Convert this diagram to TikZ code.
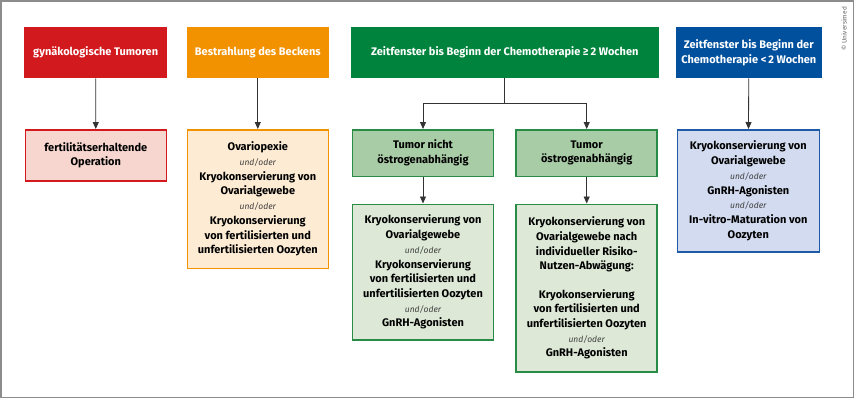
\documentclass[tikz,border=0pt]{standalone}
\usepackage{fontspec}
\setmainfont{Fira Sans}
\usetikzlibrary{arrows.meta}
\definecolor{unired}{RGB}{210,25,30}
\definecolor{uniorange}{RGB}{243,146,0}
\definecolor{unigreen}{RGB}{0,132,61}
\definecolor{uniblue}{RGB}{0,80,158}
\definecolor{redlight}{RGB}{246,214,207}
\definecolor{orangelight}{RGB}{253,235,211}
\definecolor{greenmid}{RGB}{168,204,165}
\definecolor{greenlight}{RGB}{221,233,214}
\definecolor{bluelight}{RGB}{210,219,240}
\definecolor{greenline}{RGB}{40,140,70}
\definecolor{blueline}{RGB}{30,90,166}
\newcommand{\uo}{{\fontsize{8.5}{14.7}\selectfont\mdseries\itshape\color{black!75}und/oder}}

\begin{document}
\begin{tikzpicture}[x=1pt,y=-1pt,
    every node/.style={font=\bfseries\fontsize{11}{14.7}\selectfont,align=center,inner sep=0pt},
    kopf/.style={fill=#1,text=white,minimum height=51pt,anchor=north},
    feld/.style={draw=#1,line width=1.6pt,anchor=north},
    pfeil/.style={draw=black!80,line width=0.8pt,-{Triangle[width=6pt,length=7pt]}}]
    \def\oben{27}
    \def\zweite{129}
    \def\dritte{203.5}
    \def\breite{141}
    \useasboundingbox (0,0) rectangle (854,400);
    \draw[black!45,line width=1.5pt] (0.75,0.75) rectangle (853.25,397.5);
    % obere Reihe
    \node[kopf=unired,minimum width=142.7pt] (gyn) at (95.7,\oben) {gynäkologische Tumoren};
    \node[kopf=uniorange,minimum width=142.3pt] (bestr) at (257.8,\oben) {Bestrahlung des Beckens};
    \node[kopf=unigreen,minimum width=308.3pt] (zeitlang) at (504.8,\oben) {Zeitfenster bis Beginn der Chemotherapie ≥\,2 Wochen};
    \node[kopf=uniblue,minimum width=145.7pt] (zeitkurz) at (748.8,\oben) {Zeitfenster bis Beginn der\\Chemotherapie <\,2 Wochen};
    \node[font=\mdseries\fontsize{6.5}{7}\selectfont,text=black!60,rotate=90] (copy) at (844,29) {© Universimed};
    % zweite Reihe
    \node[feld=unired,fill=redlight,minimum width=\breite pt,minimum height=51pt] (op) at (95.8,\zweite)
        {fertilitätserhaltende\\Operation};
    \node[feld=uniorange,fill=orangelight,minimum width=\breite pt,minimum height=138.5pt] (ovar) at (257.8,\zweite)
        {Ovariopexie\\\uo\\Kryokonservierung von\\Ovarialgewebe\\\uo\\Kryokonservierung\\von fertilisierten und\\unfertilisierten Oozyten};
    \node[feld=greenline,fill=greenmid,minimum width=\breite pt,minimum height=46.5pt] (nicht) at (423,\zweite)
        {Tumor nicht\\östrogenabhängig};
    \node[feld=greenline,fill=greenmid,minimum width=\breite pt,minimum height=46.5pt] (abh) at (586.7,\zweite)
        {Tumor\\östrogenabhängig};
    \node[feld=blueline,fill=bluelight,minimum width=142pt,minimum height=122pt] (kurz) at (748.3,\zweite)
        {Kryokonservierung von\\Ovarialgewebe\\\uo\\GnRH-Agonisten\\\uo\\In-vitro-Maturation von\\Oozyten};
    % dritte Reihe
    \node[feld=greenline,fill=greenlight,minimum width=\breite pt,minimum height=135.8pt] (nichtmass) at (423,\dritte)
        {Kryokonservierung von\\Ovarialgewebe\\\uo\\Kryokonservierung\\von fertilisierten und\\unfertilisierten Oozyten\\\uo\\GnRH-Agonisten};
    \node[feld=greenline,fill=greenlight,minimum width=\breite pt,minimum height=167.5pt] (abhmass) at (586.7,\dritte)
        {Kryokonservierung von\\Ovarialgewebe nach\\individueller Risiko-\\Nutzen-Abwägung:\\[13.6pt]Kryokonservierung\\von fertilisierten und\\unfertilisierten Oozyten\\\uo\\GnRH-Agonisten};
    % pfeile
    \coordinate (gabel) at (504.8,103);
    \draw[pfeil] (gyn) -- (op);
    \draw[pfeil] (bestr) -- (ovar);
    \draw[draw=black!80,line width=0.8pt] (zeitlang.south) -- (gabel);
    \draw[pfeil] (gabel) -| (nicht.north);
    \draw[pfeil] (gabel) -| (abh.north);
    \draw[pfeil] (zeitkurz) -- (kurz);
    \draw[pfeil] (nicht) -- (nichtmass);
    \draw[pfeil] (abh) -- (abhmass);
\end{tikzpicture}
\end{document}
